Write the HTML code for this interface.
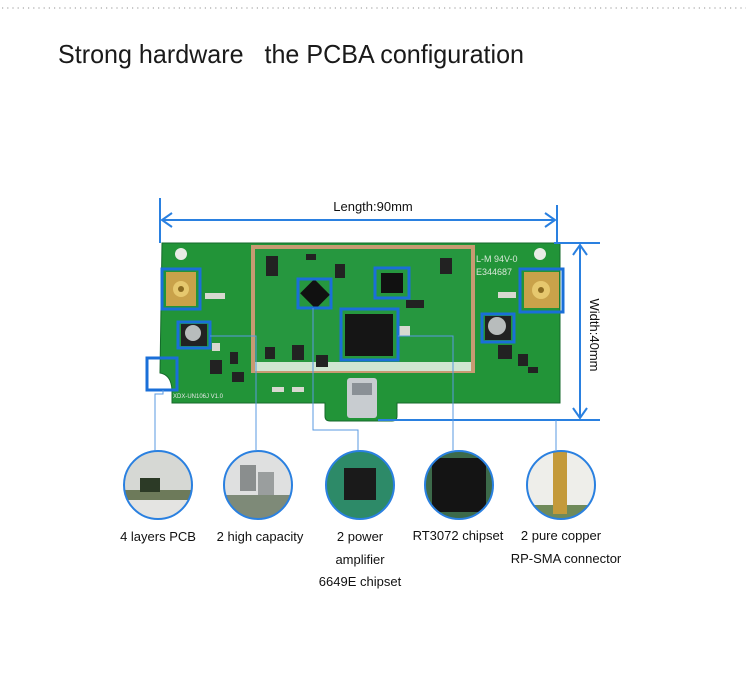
<!DOCTYPE html>
<html><head><meta charset="utf-8"><style>
html,body{margin:0;padding:0;background:#fff;}
svg{display:block;}
text{font-family:"Liberation Sans",Arial,sans-serif;}
</style></head><body>
<svg width="746" height="690" viewBox="0 0 746 690" xmlns="http://www.w3.org/2000/svg">
<line x1="2" y1="8" x2="746" y2="8" stroke="#a8a8a8" stroke-width="1.2" stroke-dasharray="1.2,4"/>
<text x="58" y="63" font-size="26" fill="#1a1a1a" textLength="466" lengthAdjust="spacingAndGlyphs" style="white-space:pre" xml:space="preserve">Strong hardware   the PCBA configuration</text>

<!-- PCB board -->
<path d="M162,243 H560 V403 H397 V416 Q397,421 392,421 H330 Q325,421 325,416 V403 H172 V392 Q172,375 160,373 H160 Z" fill="#229438"/>
<path d="M162,243 H560 V403 H397 V416 Q397,421 392,421 H330 Q325,421 325,416 V403 H172 V392 Q172,375 160,373 H160 Z" fill="none" stroke="#156a2b" stroke-width="1"/>
<rect x="251" y="245" width="224" height="128" fill="#c89a72"/>
<rect x="255" y="249" width="216" height="120" fill="#26973f"/>
<rect x="255" y="362" width="216" height="9" fill="#cfe6d2"/>
<circle cx="181" cy="254" r="6" fill="#e9ece6"/>
<circle cx="540" cy="254" r="6" fill="#e9ece6"/>
<g fill="#222">
<rect x="266" y="256" width="12" height="20"/><rect x="306" y="254" width="10" height="6"/>
<rect x="335" y="264" width="10" height="14"/><rect x="440" y="258" width="12" height="16"/>
<rect x="406" y="300" width="18" height="8"/><rect x="265" y="347" width="10" height="12"/>
<rect x="292" y="345" width="12" height="15"/><rect x="316" y="355" width="12" height="12"/>
<rect x="230" y="352" width="8" height="12"/><rect x="232" y="372" width="12" height="10"/>
<rect x="210" y="360" width="12" height="14"/><rect x="498" y="345" width="14" height="14"/>
<rect x="518" y="354" width="10" height="12"/><rect x="528" y="367" width="10" height="6"/>
</g>
<g fill="#d8d8d0">
<rect x="205" y="293" width="20" height="6"/><rect x="498" y="292" width="18" height="6"/>
<rect x="212" y="343" width="8" height="8"/><rect x="398" y="326" width="12" height="10"/>
<rect x="272" y="387" width="12" height="5"/><rect x="292" y="387" width="12" height="5"/>
</g>
<rect x="304" y="284" width="22" height="20" fill="#111" transform="rotate(45 315 294)"/>
<rect x="381" y="273" width="22" height="20" fill="#111"/>
<rect x="345" y="314" width="48" height="42" fill="#151515"/>
<rect x="166" y="272" width="30" height="34" fill="#c9a24a"/>
<circle cx="181" cy="289" r="8" fill="#e6c86e"/><circle cx="181" cy="289" r="3" fill="#8a6a20"/>
<rect x="524" y="272" width="35" height="36" fill="#c9a24a"/>
<circle cx="541" cy="290" r="9" fill="#e6c86e"/><circle cx="541" cy="290" r="3" fill="#8a6a20"/>
<rect x="181" y="324" width="26" height="22" fill="#222"/><circle cx="193" cy="333" r="8" fill="#b8bcbc"/>
<rect x="485" y="316" width="26" height="24" fill="#222"/><circle cx="497" cy="326" r="9" fill="#b8bcbc"/>
<rect x="347" y="378" width="30" height="40" rx="3" fill="#c8ccd0"/>
<rect x="352" y="383" width="20" height="12" fill="#8a9096"/>
<text x="173" y="398" font-size="6" fill="#e8e8e8">XDX-UN106J  V1.0</text>
<text x="476" y="262" font-size="9" fill="#d8e8d8">L-M 94V-0</text>
<text x="476" y="275" font-size="9" fill="#d8e8d8">E344687</text>

<g fill="none" stroke="#1a6fd8" stroke-width="3">
<rect x="162" y="269" width="38" height="40"/>
<rect x="178" y="322" width="32" height="26"/>
<rect x="147" y="358" width="30" height="32"/>
<rect x="298" y="279" width="33" height="29"/>
<rect x="375" y="268" width="34" height="30"/>
<rect x="341" y="309" width="57" height="51"/>
<rect x="482" y="314" width="32" height="28"/>
<rect x="520" y="269" width="43" height="43"/>
</g>

<g stroke="#2a80e0" stroke-width="2" fill="none">
<line x1="160" y1="198" x2="160" y2="243"/>
<line x1="557" y1="205" x2="557" y2="243"/>
<line x1="162" y1="220" x2="555" y2="220"/>
<polyline points="172,213 162,220 172,227"/>
<polyline points="545,213 555,220 545,227"/>
<line x1="554" y1="243" x2="600" y2="243"/>
<line x1="378" y1="420" x2="600" y2="420"/>
<line x1="580" y1="245" x2="580" y2="418"/>
<polyline points="573,255 580,245 587,255"/>
<polyline points="573,408 580,418 587,408"/>
</g>
<text x="373" y="211" font-size="13" fill="#111" text-anchor="middle">Length:90mm</text>
<text x="0" y="0" font-size="13" fill="#111" text-anchor="middle" transform="translate(590 335) rotate(90)">Width:40mm</text>

<g stroke="#5a9ae0" stroke-width="1" fill="none">
<polyline points="163,390 163,394 155,394 155,450"/>
<polyline points="210,336 256,336 256,450"/>
<polyline points="313,308 313,430 358,430 358,450"/>
<polyline points="398,336 453,336 453,450"/>
<line x1="556" y1="420" x2="556" y2="450"/>
</g>

<defs>
<clipPath id="c1"><circle cx="158" cy="485" r="34"/></clipPath>
<clipPath id="c2"><circle cx="258" cy="485" r="34"/></clipPath>
<clipPath id="c3"><circle cx="360" cy="485" r="34"/></clipPath>
<clipPath id="c4"><circle cx="459" cy="485" r="34"/></clipPath>
<clipPath id="c5"><circle cx="561" cy="485" r="34"/></clipPath>
</defs>
<g clip-path="url(#c1)"><rect x="120" y="450" width="80" height="80" fill="#d6d8d4"/><rect x="120" y="490" width="80" height="10" fill="#6d7a5a"/><rect x="140" y="478" width="20" height="14" fill="#2c3a26"/><rect x="120" y="500" width="80" height="30" fill="#e4e4e2"/></g>
<g clip-path="url(#c2)"><rect x="220" y="450" width="80" height="80" fill="#dfe0e0"/><rect x="240" y="465" width="16" height="26" fill="#8a8e8e"/><rect x="258" y="472" width="16" height="24" fill="#9a9e9e"/><rect x="220" y="495" width="80" height="35" fill="#7e8a78"/></g>
<g clip-path="url(#c3)"><rect x="322" y="450" width="80" height="80" fill="#2d8a68"/><rect x="344" y="468" width="32" height="32" fill="#1a1a1a"/></g>
<g clip-path="url(#c4)"><rect x="420" y="450" width="80" height="80" fill="#3c6a4a"/><rect x="432" y="458" width="54" height="54" fill="#141414"/></g>
<g clip-path="url(#c5)"><rect x="522" y="450" width="80" height="80" fill="#eeeeea"/><rect x="522" y="505" width="80" height="25" fill="#6f8a5a"/><rect x="553" y="452" width="14" height="62" fill="#c49a3a"/></g>
<g fill="none" stroke="#2a80e0" stroke-width="2">
<circle cx="158" cy="485" r="34"/><circle cx="258" cy="485" r="34"/><circle cx="360" cy="485" r="34"/><circle cx="459" cy="485" r="34"/><circle cx="561" cy="485" r="34"/>
</g>

<g font-size="13" fill="#111" text-anchor="middle">
<text x="158" y="541">4 layers PCB</text>
<text x="260" y="541">2 high capacity</text>
<text x="360" y="541">2 power</text>
<text x="360" y="564">amplifier</text>
<text x="360" y="586">6649E chipset</text>
<text x="458" y="540">RT3072 chipset</text>
<text x="561" y="540">2 pure copper</text>
<text x="566" y="563">RP-SMA connector</text>
</g>
</svg>
</body></html>
